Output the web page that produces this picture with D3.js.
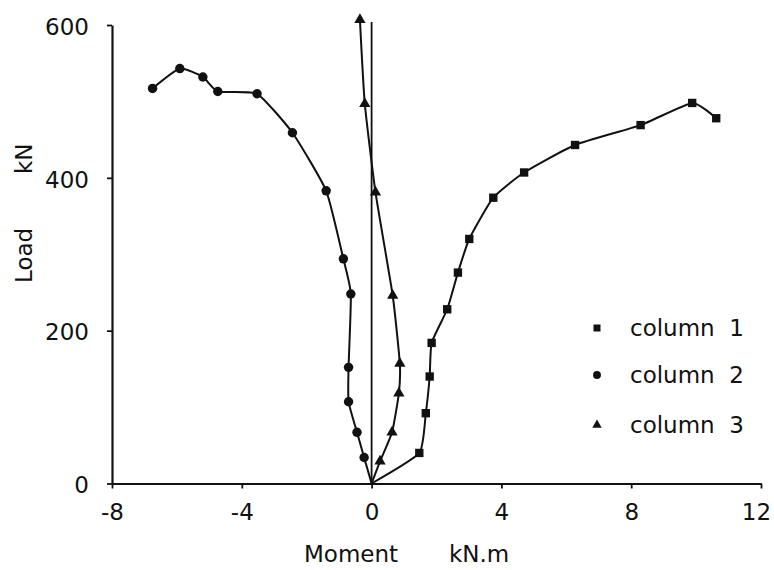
<!DOCTYPE html>
<html>
  <head>
    <meta charset="utf-8" />
    <title>Load vs Moment</title>
    <script src="https://d3js.org/d3.v7.min.js"></script>
    <style>
      body { margin: 0; background: white; }
      svg text { font-family: "DejaVu Sans", sans-serif; fill: #111; }
    </style>
  </head>
  <body>
    <svg width="774" height="570" id="chart"></svg>

    <script>
        // moment (kN.m) and load (kN)
        var col1Moment = [0, 1.47, 1.67, 1.79, 1.85, 2.33, 2.66, 3.01, 3.75, 4.70, 6.27, 8.29, 9.88, 10.62];
        var col1Load   = [0, 40, 92, 140, 184, 228, 276, 320, 374, 407, 443, 469, 498, 478];

        var col2Moment = [0, -0.23, -0.45, -0.71, -0.71, -0.64, -0.87, -1.40, -2.44, -3.53, -4.74, -5.20, -5.91, -6.75];
        var col2Load   = [0, 34, 67, 107, 152, 248, 294, 383, 459, 510, 513, 532, 543, 517];

        var col3Moment = [0, 0.26, 0.63, 0.84, 0.87, 0.65, 0.12, -0.21, -0.36];
        var col3Load   = [0, 29, 67, 118, 157, 246, 381, 497, 607];

        var xTicks = [-8, -4, 0, 4, 8, 12];
        var yTicks = [0, 200, 400, 600];
        var seriesNames = ["column  1", "column  2", "column  3"];

        var svg = d3.select("#chart");

        var x = d3.scaleLinear().domain([-8, 12]).range([112, 761]);
        var y = d3.scaleLinear().domain([0, 600]).range([483.5, 25]);

        // axes (plain hyphen for negatives, like the original)
        var xAxis = svg.append("g")
            .attr("transform", "translate(0," + y(0) + ")")
            .call(d3.axisBottom(x).tickValues(xTicks).tickSize(5).tickSizeOuter(0)
                .tickFormat(function(d) { return String(d); }));
        xAxis.selectAll("text").attr("y", 20).style("font-size", "23px")
            .attr("dx", function(d) { return d === 12 ? -5 : 0; }); // keep "12" inside the frame

        var yAxis = svg.append("g")
            .attr("transform", "translate(" + x(-8) + ",0)")
            .call(d3.axisLeft(y).tickValues(yTicks).tickSize(5).tickSizeOuter(0).tickPadding(18));
        yAxis.selectAll("text").style("font-size", "23px").attr("dy", "0.4em");

        svg.selectAll(".domain").attr("stroke", "#111").attr("stroke-width", 2.2);
        svg.selectAll(".tick line").attr("stroke", "#111").attr("stroke-width", 1.8);

        // axis titles
        svg.append("text").attr("x", 304).attr("y", 562).style("font-size", "23px").text("Moment");
        svg.append("text").attr("x", 449).attr("y", 562).style("font-size", "23px").text("kN.m");
        svg.append("text").attr("transform", "translate(32,283) rotate(-90)").style("font-size", "23px").text("Load");
        svg.append("text").attr("transform", "translate(32,174) rotate(-90)").style("font-size", "23px").text("kN");

        // zero moment line
        svg.append("line")
            .attr("x1", x(0)).attr("x2", x(0))
            .attr("y1", y(0)).attr("y2", y(604))
            .attr("stroke", "#111").attr("stroke-width", 1.8);

        var series = [
            { m: col1Moment, p: col1Load, sym: d3.symbolSquare, size: 70 },
            { m: col2Moment, p: col2Load, sym: d3.symbolCircle, size: 70 },
            { m: col3Moment, p: col3Load, sym: d3.symbolTriangle, size: 55 }
        ];

        var line = d3.line()
            .x(function(d) { return x(d[0]); })
            .y(function(d) { return y(d[1]); })
            .curve(d3.curveCardinal.tension(0.5));

        series.forEach(function(s) {
            var pts = s.m.map(function(v, i) { return [v, s.p[i]]; });
            svg.append("path")
                .datum(pts)
                .attr("d", line)
                .attr("fill", "none")
                .attr("stroke", "#111")
                .attr("stroke-width", 2);

            // no marker at the origin
            svg.append("g").selectAll("path")
                .data(pts.slice(1))
                .enter().append("path")
                .attr("transform", function(d) { return "translate(" + x(d[0]) + "," + y(d[1]) + ")"; })
                .attr("d", d3.symbol().type(s.sym).size(s.size))
                .attr("fill", "#111");
        });

        // legend
        var legendY = [328, 375, 425];
        var legend = svg.append("g");
        series.forEach(function(s, i) {
            legend.append("path")
                .attr("transform", "translate(597," + legendY[i] + ")")
                .attr("d", d3.symbol().type(s.sym).size(s.size * 0.7))
                .attr("fill", "#111");
            legend.append("text")
                .attr("x", 630).attr("y", legendY[i] + 8)
                .style("font-size", "23px")
                .style("white-space", "pre")
                .attr("xml:space", "preserve")
                .text(seriesNames[i]);
        });
    </script>
  </body>
</html>
